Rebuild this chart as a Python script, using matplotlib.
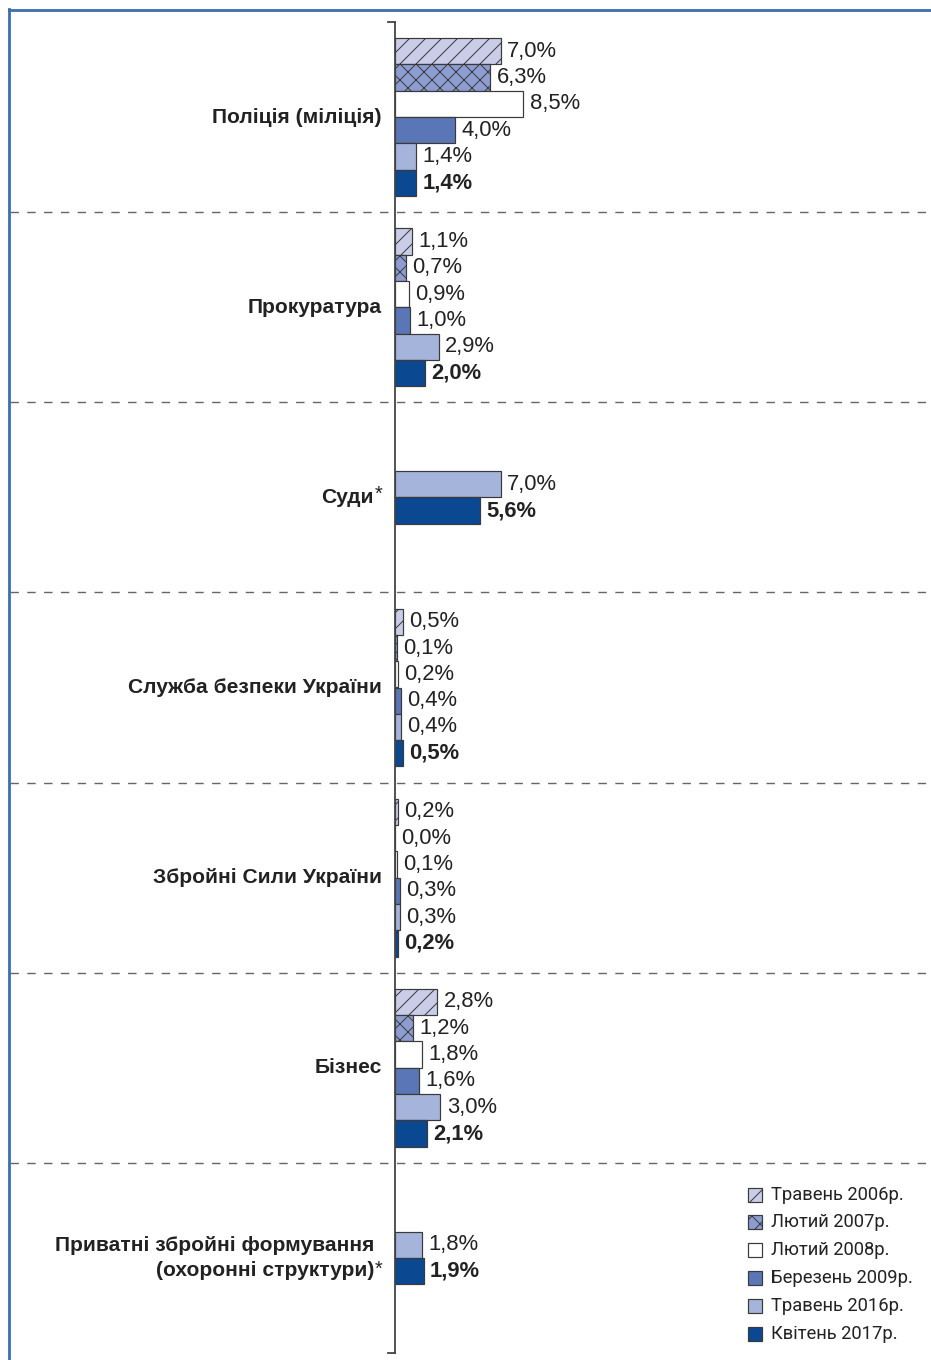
import matplotlib
matplotlib.use("Agg")
import matplotlib.pyplot as plt
from matplotlib.patches import Rectangle
from matplotlib.lines import Line2D

plt.rcParams['font.family'] = ['Liberation Sans', 'DejaVu Sans']
plt.rcParams['hatch.linewidth'] = 0.5
plt.rcParams['hatch.color'] = '#333333'

categories = [
    "Поліція (міліція)",
    "Прокуратура",
    "Суди",
    "Служба безпеки України",
    "Збройні Сили України",
    "Бізнес",
    "Приватні збройні формування\n(охоронні структури)",
]
asterisk = [False, False, True, False, False, False, True]

series_names = ["Травень 2006р.", "Лютий 2007р.", "Лютий 2008р.",
                "Березень 2009р.", "Травень 2016р.", "Квітень 2017р."]

may2006 = [7.0, 1.1, None, 0.5, 0.2, 2.8, None]
feb2007 = [6.3, 0.7, None, 0.1, 0.0, 1.2, None]
feb2008 = [8.5, 0.9, None, 0.2, 0.1, 1.8, None]
mar2009 = [4.0, 1.0, None, 0.4, 0.3, 1.6, None]
may2016 = [1.4, 2.9, 7.0, 0.4, 0.3, 3.0, 1.8]
apr2017 = [1.4, 2.0, 5.6, 0.5, 0.2, 2.1, 1.9]

series = [may2006, feb2007, feb2008, mar2009, may2016, apr2017]
colors = ["#c9cde8", "#8d9dd2", "#ffffff", "#5b76b6", "#a5b4da", "#0b4892"]
hatches = ["///", "xxx", None, None, None, None]

W, H = 931, 1360
DPI = 144
fig = plt.figure(figsize=(W / DPI, H / DPI), dpi=DPI)

ax_left, ax_right, ax_top, ax_bot = 395, 931, 22, 1353
ax = fig.add_axes([ax_left / W, 1 - ax_bot / H, (ax_right - ax_left) / W, (ax_bot - ax_top) / H])
xmax = (ax_right - ax_left) / 15.1
ax.set_xlim(0, xmax)
ax.set_ylim(len(categories), 0)
for s in ["top", "right", "bottom", "left"]:
    ax.spines[s].set_visible(False)
ax.set_xticks([])
ax.set_yticks([])

bh = 26.3 / 190.0
edge = "#3a3a3a"
for g in range(len(categories)):
    present = [k for k in range(len(series)) if series[k][g] is not None]
    n = len(present)
    for j, k in enumerate(present):
        v = series[k][g]
        yc = g + 0.5 + (j - (n - 1) / 2.0) * bh
        ax.barh(yc, v, height=bh, left=0, color=colors[k], edgecolor=edge,
                linewidth=0.6, hatch=hatches[k], zorder=2)
        lab = f"{v:.1f}%".replace(".", ",")
        ax.annotate(lab, xy=(v, yc), xytext=(3.2, 0), textcoords="offset points",
                    ha="left", va="center", fontsize=11, color="#222222",
                    fontweight="bold" if k == 5 else "normal")
    # category label
    if asterisk[g]:
        multi = "\n" in categories[g]
        ax.annotate("*", xy=(0, g + 0.5), xytext=(-6.5, -5.5 if multi else 1.5),
                    textcoords="offset points", ha="right", va="center",
                    fontsize=10, color="#222222")
        ax.annotate(categories[g], xy=(0, g + 0.5), xytext=(-10.5, 0), textcoords="offset points",
                    ha="right", va="center", fontsize=10.5, fontweight="bold",
                    color="#222222", multialignment="right", linespacing=1.45)
    else:
        ax.annotate(categories[g], xy=(0, g + 0.5), xytext=(-6.5, 0), textcoords="offset points",
                    ha="right", va="center", fontsize=10.5, fontweight="bold",
                    color="#222222", multialignment="right", linespacing=1.45)

# axis line with end ticks
axis_color = "#444444"
fig.add_artist(Line2D([ax_left / W] * 2, [1 - ax_top / H, 1 - ax_bot / H],
                      color=axis_color, lw=0.9))
for yy in (ax_top, ax_bot):
    fig.add_artist(Line2D([(ax_left - 7) / W, ax_left / W], [1 - yy / H] * 2,
                          color=axis_color, lw=0.9))

# dashed separators
for g in range(1, len(categories)):
    ypix = ax_top + g * (ax_bot - ax_top) / len(categories)
    fig.add_artist(Line2D([10 / W, 930 / W], [1 - ypix / H] * 2, color="#666666",
                          lw=0.7, dashes=(6, 6)))

# blue frame (top and left)
fig.add_artist(Line2D([9 / W, 9 / W], [0, 1 - 9 / H], color="#3b6fb0", lw=1.4))
fig.add_artist(Line2D([9 / W, 1], [1 - 9.5 / H] * 2, color="#3b6fb0", lw=1.4))

# legend
leg_rows = [1195, 1222, 1250, 1278, 1306, 1334]
leg_hatch = ["///", "xxx", None, None, None, None]
for k, yy in enumerate(leg_rows):
    sq = 14
    r = Rectangle(((748) / W, 1 - (yy + sq / 2) / H), sq / W, sq / H,
                  transform=fig.transFigure, facecolor=colors[k], edgecolor=edge,
                  linewidth=0.6, hatch=leg_hatch[k])
    fig.add_artist(r)
    fig.text(771 / W, 1 - yy / H, series_names[k], ha="left", va="center",
             fontsize=9.2, color="#222222",
             family=["Roboto", "DejaVu Sans"])

fig.savefig("out.png", dpi=DPI)
